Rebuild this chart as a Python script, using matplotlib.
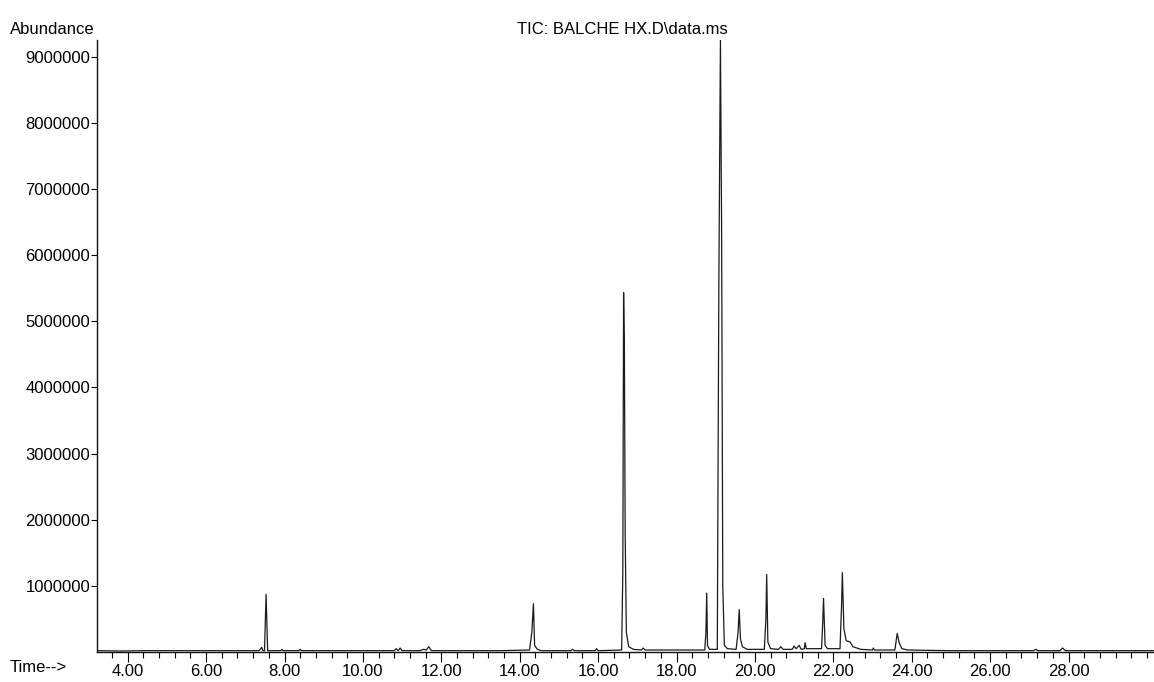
import matplotlib
matplotlib.use("Agg")
import matplotlib.pyplot as plt
from matplotlib.ticker import MultipleLocator, FixedLocator

plt.rcParams['font.family'] = ['Liberation Sans', 'DejaVu Sans']

# TIC trace vertices: retention time (min), abundance (millions)
time_min = [
    3.25, 3.8, 4.5, 5.5, 6.5, 7.35, 7.42, 7.45, 7.49, 7.53, 7.57,
    7.90, 7.93, 7.96, 8.37, 8.40, 8.43, 9.5, 10.80, 10.85, 10.90, 10.95, 11.00,
    11.45, 11.55, 11.62, 11.68, 11.75, 12.5, 13.5,
    14.25, 14.31, 14.35, 14.38, 14.45, 14.55,
    15.30, 15.35, 15.40, 15.93, 15.96, 16.00,
    16.60, 16.63, 16.65, 16.67, 16.69, 16.72, 16.78, 16.90,
    17.10, 17.15, 17.20, 18.0,
    18.72, 18.75, 18.77, 18.79, 18.84,
    19.04, 19.08, 19.12, 19.15, 19.18, 19.22, 19.30,
    19.52, 19.57, 19.60, 19.63, 19.68, 19.80,
    20.24, 20.28, 20.30, 20.33, 20.40,
    20.60, 20.66, 20.72, 20.95, 21.00, 21.05, 21.13, 21.18, 21.26, 21.28, 21.31,
    21.70, 21.73, 21.75, 21.79, 21.85,
    22.17, 22.21, 22.23, 22.27, 22.33, 22.43, 22.50, 22.70,
    23.00, 23.02, 23.05,
    23.57, 23.61, 23.63, 23.68, 23.75, 23.90,
    25.0, 26.0, 27.10, 27.17, 27.22, 27.78, 27.85, 27.92, 29.0, 30.2,
]
abundance_m = [
    0.02, 0.015, 0.02, 0.02, 0.02, 0.02, 0.07, 0.02, 0.02, 0.87, 0.02,
    0.02, 0.04, 0.02, 0.02, 0.04, 0.02, 0.02, 0.02, 0.05, 0.02, 0.06, 0.02,
    0.02, 0.04, 0.03, 0.08, 0.02, 0.02, 0.02,
    0.03, 0.30, 0.73, 0.10, 0.04, 0.02,
    0.02, 0.04, 0.02, 0.02, 0.05, 0.02,
    0.03, 1.20, 5.43, 4.60, 1.80, 0.30, 0.08, 0.04,
    0.03, 0.06, 0.03, 0.03,
    0.03, 0.30, 0.89, 0.10, 0.04,
    0.04, 5.60, 9.25, 6.40, 1.00, 0.10, 0.05,
    0.04, 0.30, 0.64, 0.20, 0.08, 0.04,
    0.04, 0.50, 1.17, 0.15, 0.05,
    0.04, 0.08, 0.04, 0.04, 0.09, 0.05, 0.10, 0.04, 0.05, 0.14, 0.05,
    0.05, 0.45, 0.81, 0.10, 0.05,
    0.05, 0.70, 1.20, 0.35, 0.17, 0.15, 0.08, 0.04,
    0.03, 0.06, 0.03,
    0.03, 0.20, 0.28, 0.14, 0.05, 0.03,
    0.02, 0.02, 0.02, 0.04, 0.02, 0.02, 0.06, 0.02, 0.02, 0.02,
]
y_ticks = [1000000, 2000000, 3000000, 4000000, 5000000, 6000000, 7000000, 8000000, 9000000]
x_major = [4, 6, 8, 10, 12, 14, 16, 18, 20, 22, 24, 26, 28]

fig = plt.figure(figsize=(11.54, 6.82), dpi=100)
ax = fig.add_axes([97 / 1154, 30 / 682, 1 - 97 / 1154, 612 / 682])

ax.plot(time_min, [a * 1e6 for a in abundance_m], color='#1a1a1a', lw=0.9)

ax.set_xlim(3.217, 30.18)
ax.set_ylim(0, 9.25e6)
for s in ['top', 'right']:
    ax.spines[s].set_visible(False)
for s in ['left', 'bottom']:
    ax.spines[s].set_linewidth(1.0)
    ax.spines[s].set_color('#111111')

ax.yaxis.set_major_locator(FixedLocator(y_ticks))
ax.set_yticklabels([str(v) for v in y_ticks])
ax.xaxis.set_major_locator(FixedLocator(x_major))
ax.set_xticklabels([f"{v:.2f}" for v in x_major])
ax.xaxis.set_minor_locator(MultipleLocator(0.4))
ax.tick_params(axis='y', length=4, width=0.8, pad=1, labelsize=12)
ax.tick_params(axis='x', which='major', length=7, width=0.8, pad=2, labelsize=12)
ax.tick_params(axis='x', which='minor', length=4, width=0.8)

fig.text(10 / 1154, 1 - 30 / 682, "Abundance", fontsize=12, ha='left', va='center')
fig.text(622 / 1154, 1 - 30 / 682, "TIC: BALCHE HX.D\\data.ms", fontsize=12,
         ha='center', va='center')
fig.text(10 / 1154, 1 - 668 / 682, "Time-->", fontsize=12, ha='left', va='center')

fig.savefig("out.png", dpi=100)
